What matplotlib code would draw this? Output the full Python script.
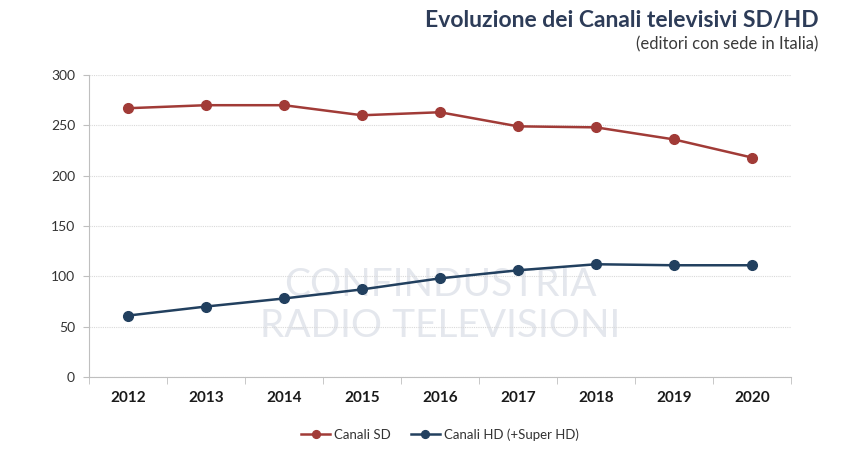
import numpy as np
import matplotlib
matplotlib.use("Agg")
from matplotlib import pyplot as plt

plt.rcParams['font.family'] = ['Lato', 'DejaVu Sans']

years = ['2012', '2013', '2014', '2015', '2016', '2017', '2018', '2019', '2020']
canali_sd = [267, 270, 270, 260, 263, 249, 248, 236, 218]
canali_hd = [61, 70, 78, 87, 98, 106, 112, 111, 111]
yticks = [0, 50, 100, 150, 200, 250, 300]

red = '#a13b37'
blue = '#22405f'

fig = plt.figure(figsize=(8.49, 4.54), dpi=100)
ax = fig.add_axes([0.1048, 0.1696, 0.8269, 0.6652])

x = np.arange(len(years))

# watermark
ax.text(0.5, 0.305, 'CONFINDUSTRIA', transform=ax.transAxes, ha='center', va='center',
        fontsize=28, color='#e4e7ed', fontweight='normal', zorder=0)
ax.text(0.5, 0.17, 'RADIO TELEVISIONI', transform=ax.transAxes, ha='center', va='center',
        fontsize=28, color='#e4e7ed', fontweight='normal', zorder=0)

ax.plot(x, canali_sd, color=red, lw=1.8, marker='o', ms=7, label='Canali SD', zorder=3)
ax.plot(x, canali_hd, color=blue, lw=1.8, marker='o', ms=7, label='Canali HD (+Super HD)', zorder=3)

ax.set_xlim(-0.5, len(years) - 0.5)
ax.set_ylim(0, 300)
ax.set_yticks(yticks)
ax.set_yticklabels([str(v) for v in yticks], fontsize=10, color='#333333')
ax.yaxis.grid(True, color='#d9d9d9', lw=0.8, ls=(0, (1, 1)))
ax.set_axisbelow(True)

ax.set_xticks(x)
ax.set_xticklabels(years, fontsize=11, fontweight='bold', color='#1a1a1a')
ax.tick_params(axis='x', length=0, pad=10)
ax.set_xticks(np.arange(-0.5, len(years)), minor=True)
ax.tick_params(axis='x', which='minor', length=5, color='#bfbfbf')
ax.tick_params(axis='y', length=4, color='#bfbfbf', pad=6)

for s in ['top', 'right']:
    ax.spines[s].set_visible(False)
for s in ['left', 'bottom']:
    ax.spines[s].set_color('#bfbfbf')

leg = ax.legend(loc='upper center', bbox_to_anchor=(0.5, -0.13), ncol=2, frameon=False,
                fontsize=9.5, handlelength=2.2, handletextpad=0.3, columnspacing=1.5,
                markerscale=0.8)
for t in leg.get_texts():
    t.set_color('#333333')

fig.text(0.964, 0.955, 'Evoluzione dei Canali televisivi SD/HD', ha='right', va='center',
         fontsize=16.5, fontweight='bold', color='#2d3c58')
fig.text(0.964, 0.903, '(editori con sede in Italia)', ha='right', va='center',
         fontsize=12, color='#3a3a3a')

fig.savefig('out.png', dpi=100)
